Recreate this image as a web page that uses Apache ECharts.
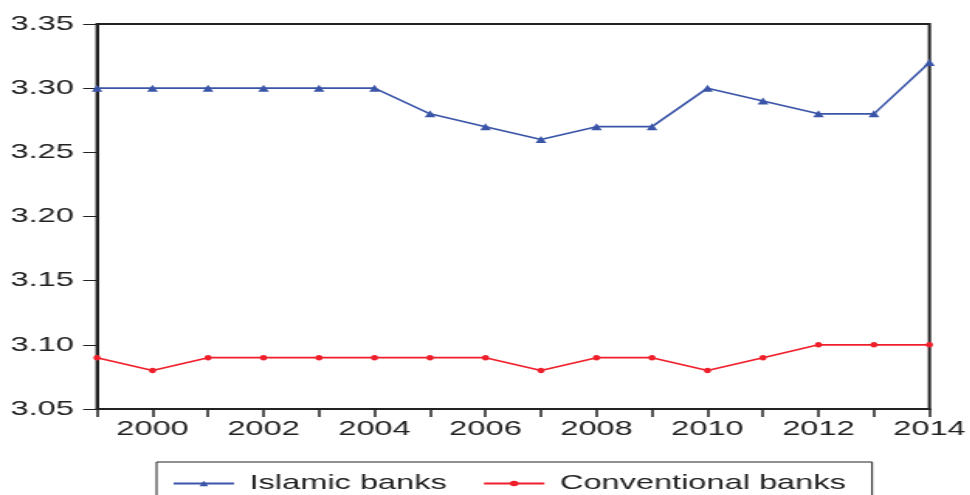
<!DOCTYPE html>
<html>
<head>
<meta charset="utf-8">
<script src="https://cdn.jsdelivr.net/npm/echarts@6/dist/echarts.min.js"></script>
<style>
  html, body { margin: 0; padding: 0; background: #fff; overflow: hidden; }
  /* the reference is stretched sideways, so draw narrow and stretch */
  #chart { width: 626px; height: 495px; transform: scaleX(1.55); transform-origin: 0 0; }
</style>
</head>
<body>
<div id="chart"></div>
<script>
const years = ['1999', '2000', '2001', '2002', '2003', '2004', '2005', '2006',
  '2007', '2008', '2009', '2010', '2011', '2012', '2013', '2014'];
const islamic = [3.30, 3.30, 3.30, 3.30, 3.30, 3.30, 3.28, 3.27,
  3.26, 3.27, 3.27, 3.30, 3.29, 3.28, 3.28, 3.32];
const conventional = [3.09, 3.08, 3.09, 3.09, 3.09, 3.09, 3.09, 3.09,
  3.08, 3.09, 3.09, 3.08, 3.09, 3.10, 3.10, 3.10];

const font = "'Liberation Sans', Arial, sans-serif";
const ink = '#222';

const chart = echarts.init(document.getElementById('chart'));
chart.setOption({
  animation: false,
  grid: {
    left: 62.6, right: 23.4, top: 24, bottom: 86,
    show: true, borderColor: ink, borderWidth: 2
  },
  legend: {
    left: 101, top: 462,
    padding: [11, 17, 20, 10],
    borderColor: ink, borderWidth: 1,
    itemWidth: 39, itemHeight: 7, itemGap: 23,
    textStyle: { fontFamily: font, fontSize: 21, color: ink, padding: [0, 0, 0, 5] },
    data: ['Islamic banks', 'Conventional banks']
  },
  xAxis: {
    type: 'category',
    data: years,
    boundaryGap: false,
    axisLine: { lineStyle: { color: ink, width: 2 } },
    axisTick: { interval: 0, length: 8, lineStyle: { color: ink, width: 1.5 } },
    axisLabel: {
      interval: (i, v) => Number(v) % 2 === 0,
      margin: 10, fontFamily: font, fontSize: 21, color: ink
    },
    splitLine: { show: false }
  },
  yAxis: {
    type: 'value',
    min: 3.05, max: 3.35, interval: 0.05,
    axisLine: { show: true, lineStyle: { color: ink, width: 2 } },
    axisTick: { show: true, length: 9, lineStyle: { color: ink, width: 1 } },
    axisLabel: {
      margin: 15, fontFamily: font, fontSize: 21, color: ink,
      formatter: v => v.toFixed(2)
    },
    splitLine: { show: false }
  },
  series: [
    {
      name: 'Islamic banks',
      type: 'line',
      data: islamic,
      symbol: 'triangle',
      symbolSize: [7, 7],
      color: '#3a55a8',
      lineStyle: { color: '#3a55a8', width: 1.6 },
      itemStyle: { color: '#3a55a8' }
    },
    {
      name: 'Conventional banks',
      type: 'line',
      data: conventional,
      symbol: 'circle',
      symbolSize: [4.5, 5.5],
      color: '#ee1f2b',
      lineStyle: { color: '#ee1f2b', width: 1.6 },
      itemStyle: { color: '#ee1f2b' }
    }
  ]
});
</script>
</body>
</html>
